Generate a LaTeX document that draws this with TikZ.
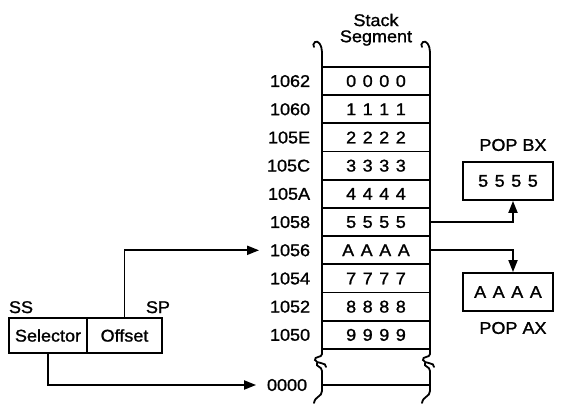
\documentclass[tikz,border=0pt]{standalone}
\usepackage{fontspec}
\setmainfont{Liberation Sans}[FakeStretch=1.06, FakeBold=1.2]
\usetikzlibrary{arrows.meta}
\begin{document}
\begin{tikzpicture}[x=1pt,y=-1pt,
  font=\fontsize{17}{19}\selectfont,
  line width=1.8pt,
  cell/.style={draw, minimum width=108pt, minimum height=28.2pt, inner sep=0pt},
  addr/.style={anchor=east, inner sep=0pt},
  reg/.style={draw, minimum height=35pt, inner sep=0pt},
  popbox/.style={draw, minimum width=90pt, minimum height=38pt, inner sep=0pt},
  arr/.style={-{Triangle[length=12pt,width=9pt]}},
  brk/.style={line width=1.8pt, line cap=round}]
\useasboundingbox (0,0) rectangle (563,406);
% title
\node (t1) at (376,20) {Stack};
\node (t2) at (376,38) {Segment};
% cells
\foreach \i/\v/\a in {1/0 0 0 0/1062, 2/1 1 1 1/1060, 3/2 2 2 2/105E, 4/3 3 3 3/105C,
  5/4 4 4 4/105A, 6/5 5 5 5/1058, 7/A A A A/1056, 8/7 7 7 7/1054, 9/8 8 8 8/1052, 10/9 9 9 9/1050} {
  \node[cell] (r\i) at (376,{67+(\i-0.5)*28.2}) {\addfontfeature{LetterSpace=9}\v};
  \node[addr] (l\i) at (311,{67+(\i-0.5)*28.2}) {\a};
}
\node[addr] (l0) at (308,385) {0000};
% column sides
\foreach \x in {322,430} {
  \draw[brk] (\x,67) -- (\x,52) .. controls (\x,45) and ({\x-4},40) .. ({\x-7},42) .. controls ({\x-9},43) and ({\x-9},46) .. ({\x-8},47);
  \draw[brk] (\x,349) -- (\x,354) .. controls (\x,358) and ({\x-8},356) .. ({\x-7},360) .. controls ({\x-6},364) and ({\x+5},362) .. ({\x+4},367);
  \draw[brk] ({\x-5},363) .. controls ({\x-7},367) and (\x,366) .. (\x,371) -- (\x,391) .. controls (\x,397) and ({\x-7},396) .. ({\x-8},403);
}
\draw (322,385) -- (430,385);
% selector / offset
\node[reg, minimum width=78pt] (sel) at (48,335.5) {Selector};
\node[reg, minimum width=75pt] (off) at (124.5,335.5) {Offset};
\node[anchor=south west, inner sep=0pt] (ss) at (sel.north west) [yshift=3pt] {SS};
\node[anchor=south east, inner sep=0pt] (sp) at (off.north east) [yshift=3pt, xshift=8pt] {SP};
\draw[arr] (off.north) |- ([xshift=-10pt]l7.west);
\draw[arr] (sel.south) |- ([xshift=-10pt]l0.west);
% pop boxes
\node[popbox] (bx) at (508,181) {\addfontfeature{LetterSpace=9}5 5 5 5};
\node (bxl) at (513,145) {POP BX};
\node[popbox] (ax) at (508,292) {\addfontfeature{LetterSpace=9}A A A A};
\node (axl) at (513,328) {POP AX};
\draw[arr] (r6.east) -| ([xshift=5pt]bx.south);
\draw[arr] (r7.east) -| ([xshift=5pt]ax.north);
\end{tikzpicture}
\end{document}
